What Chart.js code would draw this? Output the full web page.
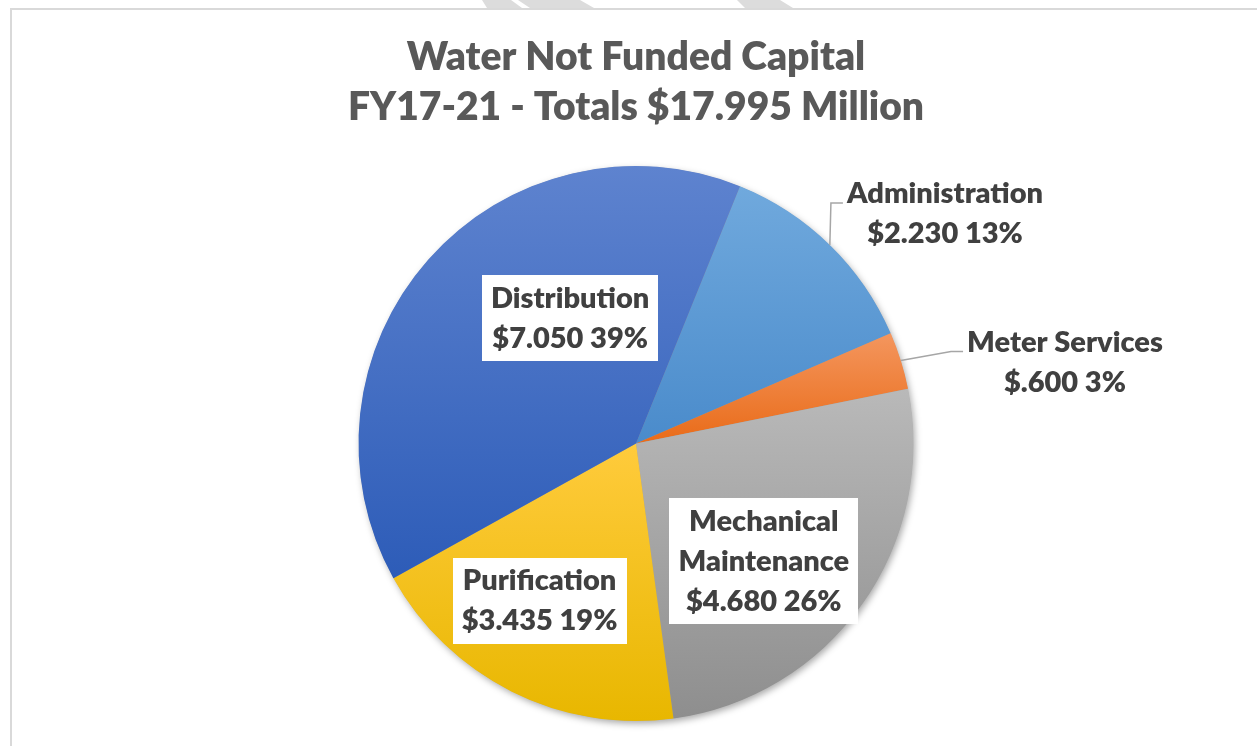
<!DOCTYPE html>
<html>
<head>
<meta charset="utf-8">
<script src="https://cdn.jsdelivr.net/npm/chart.js"></script>
<style>
  html, body { margin: 0; padding: 0; background: #fff; }
  #wrap { width: 1257px; height: 746px; }
</style>
</head>
<body>
<div id="wrap"><canvas id="pie" width="1257" height="746"></canvas></div>
<script>
// Data ($ millions)
const categories = ["Administration", "Meter Services", "Mechanical Maintenance", "Purification", "Distribution"];
const amounts = [2.230, 0.600, 4.680, 3.435, 7.050];
const pctLabels = ["13%", "3%", "26%", "19%", "39%"];
const titleLines = ["Water Not Funded Capital", "FY17-21 - Totals $17.995 Million"];

// Look
const ROTATION = 22;
const sliceGradients = [
  ["#70A9DD", "#4A8BCB"],
  ["#F4965E", "#E96B18"],
  ["#B9B9B9", "#8E8E8E"],
  ["#FFCB3C", "#E8B700"],
  ["#5E83CF", "#2D5CB8"]
];
// where each label sits: angle shift from slice middle (deg), distance in radii
const labelPlacement = [
  { outside: true,  shift: 9.1,  dist: 1.387 },
  { outside: true,  shift: 6.7,  dist: 1.573 },
  { outside: false, shift: 7.2,  dist: 0.626 },
  { outside: false, shift: 4.9,  dist: 0.665 },
  { outside: false, shift: 20.8, dist: 0.51 }
];
const LABEL_FONT = "800 29px Lato";
const LINE_H = 40;

const fmtMoney = (v) => "$" + v.toFixed(3).replace(/^0/, "");
const total = amounts.reduce((a, b) => a + b, 0);

function sliceFill(c) {
  const i = c.dataIndex;
  if (i === undefined) return sliceGradients[0][0];
  const [top, bottom] = sliceGradients[i];
  const area = c.chart.chartArea;
  if (!area) return top;
  const cx = (area.left + area.right) / 2, cy = (area.top + area.bottom) / 2;
  const R = Math.min(area.right - area.left, area.bottom - area.top) / 2;
  const before = amounts.slice(0, i).reduce((a, b) => a + b, 0);
  const a0 = (ROTATION - 90) * Math.PI / 180 + before / total * 2 * Math.PI;
  const a1 = a0 + amounts[i] / total * 2 * Math.PI;
  const ys = [cy, cy + R * Math.sin(a0), cy + R * Math.sin(a1)];
  [Math.PI / 2, -Math.PI / 2].forEach(ext => {
    for (let k = -1; k <= 2; k++) {
      const a = ext + k * 2 * Math.PI;
      if (a >= a0 && a <= a1) ys.push(cy + R * Math.sin(a));
    }
  });
  const g = c.chart.ctx.createLinearGradient(0, Math.min(...ys), 0, Math.max(...ys));
  g.addColorStop(0, top);
  g.addColorStop(1, bottom);
  return g;
}

function wrapName(ctx, text, maxW) {
  if (ctx.measureText(text).width <= maxW) return [text];
  return text.split(" ");
}

// page frame + faint watermark strokes at the top
const framePlugin = {
  id: "frame",
  beforeDraw(chart) {
    const ctx = chart.ctx;
    ctx.save();
    ctx.fillStyle = "#fff";
    ctx.fillRect(0, 0, chart.width, chart.height);
    ctx.fillStyle = "#DCDCDC";
    [[[482, 0], [511, 0], [522, 8], [487, 8]],
     [[518, 0], [580, 0], [594, 8], [530, 8]],
     [[737, 0], [780, 0], [793, 8], [745, 8]]].forEach(poly => {
      ctx.beginPath();
      poly.forEach(([x, y], k) => k ? ctx.lineTo(x, y) : ctx.moveTo(x, y));
      ctx.closePath();
      ctx.fill();
    });
    ctx.strokeStyle = "#D9D9D9";
    ctx.lineWidth = 2;
    ctx.beginPath();
    ctx.moveTo(11, chart.height);
    ctx.lineTo(11, 9);
    ctx.lineTo(chart.width, 9);
    ctx.stroke();
    ctx.restore();
  }
};

// soft shadow under the pie
const shadowPlugin = {
  id: "pieShadow",
  beforeDatasetsDraw(chart) {
    const arc = chart.getDatasetMeta(0).data[0];
    if (!arc) return;
    const ctx = chart.ctx;
    ctx.save();
    ctx.shadowColor = "rgba(0,0,0,0.35)";
    ctx.shadowBlur = 7;
    ctx.shadowOffsetX = 2;
    ctx.shadowOffsetY = 3;
    ctx.fillStyle = "#999";
    ctx.beginPath();
    ctx.arc(arc.x, arc.y, arc.outerRadius - 0.5, 0, Math.PI * 2);
    ctx.fill();
    ctx.restore();
  }
};

const labelPlugin = {
  id: "sliceLabels",
  afterDatasetsDraw(chart) {
    const ctx = chart.ctx;
    const meta = chart.getDatasetMeta(0);
    ctx.save();
    ctx.font = LABEL_FONT;
    ctx.textAlign = "center";
    ctx.textBaseline = "middle";
    meta.data.forEach((arc, i) => {
      const p = arc.getProps(["x", "y", "startAngle", "endAngle", "outerRadius"], true);
      const mid = (p.startAngle + p.endAngle) / 2;
      const place = labelPlacement[i];
      const a = mid + place.shift * Math.PI / 180;
      const lx = p.x + Math.cos(a) * p.outerRadius * place.dist;
      const ly = p.y + Math.sin(a) * p.outerRadius * place.dist;
      const lines = [...wrapName(ctx, categories[i], 250), fmtMoney(amounts[i]) + " " + pctLabels[i]];
      const textW = Math.max(...lines.map(l => ctx.measureText(l).width));

      if (place.outside) {
        const ex = p.x + Math.cos(mid) * p.outerRadius;
        const ey = p.y + Math.sin(mid) * p.outerRadius;
        const endX = lx - textW / 2 - 4, endY = ly - 11;
        ctx.strokeStyle = "#A6A6A6";
        ctx.lineWidth = 1.5;
        ctx.beginPath();
        ctx.moveTo(ex, ey);
        ctx.lineTo(endX - 12, endY);
        ctx.lineTo(endX, endY);
        ctx.stroke();
      } else {
        const w = textW + 18, h = lines.length * LINE_H + 6;
        ctx.fillStyle = "#fff";
        ctx.fillRect(Math.round(lx - w / 2), Math.round(ly - h / 2), Math.round(w), Math.round(h));
      }
      ctx.fillStyle = "#404040";
      lines.forEach((l, k) => {
        ctx.fillText(l, lx, ly + (k - (lines.length - 1) / 2) * LINE_H);
      });
    });
    ctx.restore();
  }
};

new Chart(document.getElementById("pie"), {
  type: "pie",
  data: {
    labels: categories,
    datasets: [{
      data: amounts,
      backgroundColor: sliceFill,
      borderWidth: 0
    }]
  },
  options: {
    responsive: false,
    animation: false,
    rotation: ROTATION,
    layout: { padding: { top: 0, left: 15, right: 0, bottom: 25 } },
    plugins: {
      legend: { display: false },
      tooltip: { enabled: false },
      title: {
        display: true,
        text: titleLines,
        color: "#595959",
        font: { family: "Lato", size: 39, weight: 800, lineHeight: 50 / 39 },
        padding: { top: 32, bottom: 34 }
      }
    }
  },
  plugins: [framePlugin, shadowPlugin, labelPlugin]
});
</script>
</body>
</html>
